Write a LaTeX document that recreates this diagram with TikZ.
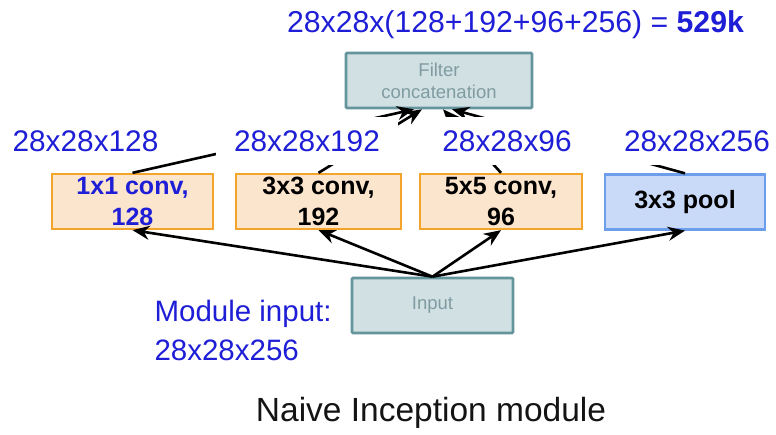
\documentclass[tikz,border=0pt]{standalone}
\usepackage{fontspec}
\setmainfont{Liberation Sans}
\usetikzlibrary{arrows.meta,calc}

\definecolor{dimblue}{RGB}{30,30,214}
\definecolor{convfill}{RGB}{252,229,205}
\definecolor{convedge}{RGB}{243,164,42}
\definecolor{poolfill}{RGB}{201,218,248}
\definecolor{pooledge}{RGB}{109,158,235}
\definecolor{tealfill}{RGB}{208,224,227}
\definecolor{tealedge}{RGB}{100,148,156}
\definecolor{tealtext}{RGB}{128,156,162}

\tikzset{
  convbox/.style={draw=convedge, fill=convfill, line width=2.3pt,
    minimum width=161pt, minimum height=55pt, inner sep=0pt, align=center,
    font=\fontsize{25}{31}\selectfont\bfseries},
  poolbox/.style={convbox, draw=pooledge, fill=poolfill},
  tealbox/.style={draw=tealedge, fill=tealfill, line width=2.6pt,
    rounded corners=1pt, inner sep=0pt, align=center, text=tealtext,
    font=\fontsize{18.5}{22}\selectfont},
  dimlabel/.style={fill=white, text=dimblue, inner sep=0pt,
    minimum height=48pt, font=\fontsize{29.8}{34}\selectfont},
  arr/.style={-{Stealth[length=17pt,width=14pt]}, line width=2.6pt, black},
}

\begin{document}
\begin{tikzpicture}[x=1pt,y=-1pt]
\useasboundingbox (0,0) rectangle (776,435);

% total output size
\node[text=dimblue, font=\fontsize{30.2}{34}\selectfont] (total) at (515.5,25)
  {28x28x(128+192+96+256) = \textbf{529k}};

% concatenation and the four parallel branches
\node[tealbox, minimum width=186pt, minimum height=55pt] (cc) at (439,80.5)
  {Filter\\concatenation};
\node[convbox, text=dimblue] (c1) at (132.5,201.5) {1x1 conv,\\128};
\node[convbox, minimum width=165pt] (c2) at (318.5,201.5) {3x3 conv,\\192};
\node[convbox, minimum width=162pt] (c3) at (501,201.5) {5x5 conv,\\96};
\node[poolbox, minimum width=160pt] (c4) at (685,202) {3x3 pool};

% module input
\node[tealbox, minimum width=161pt, minimum height=55pt] (in) at (432.5,305.5) {Input};
\node[text=dimblue, align=left, anchor=west, font=\fontsize{29.5}{39}\selectfont]
  (modin) at (151,330) {Module input:\\28x28x256};

% input feeds every branch
\draw[arr] (in.north) -- (c1.south);
\draw[arr] (in.north) -- (c2.south);
\draw[arr] (in.north) -- (c3.south);
\draw[arr] (in.north) -- (c4.south);

% branch outputs go to the concatenation
\draw[arr] (c1.north) -- ([xshift=-25pt]cc.south);
\draw[arr] (c2.north) -- ([xshift=-17pt]cc.south);
\draw[arr] (c3.north) -- ([xshift=4pt]cc.south);
\draw[arr] (c4.north) -- ([xshift=13pt]cc.south);

% output sizes of the branches (white boxes sit over the connectors)
\node[dimlabel, minimum width=150pt] (l1) at (85.5,141) {28x28x128};
\node[dimlabel, minimum width=182pt] (l2) at (307,141) {28x28x192};
\node[dimlabel, minimum width=164pt] (l3) at (507,141) {28x28x96};
\node[dimlabel, minimum width=220pt] (l4) at (697,141) {28x28x256};

% caption
\node[font=\fontsize{33.5}{38}\selectfont, text=black!92] (caption) at (431,413)
  {Naive Inception module};
\end{tikzpicture}
\end{document}
